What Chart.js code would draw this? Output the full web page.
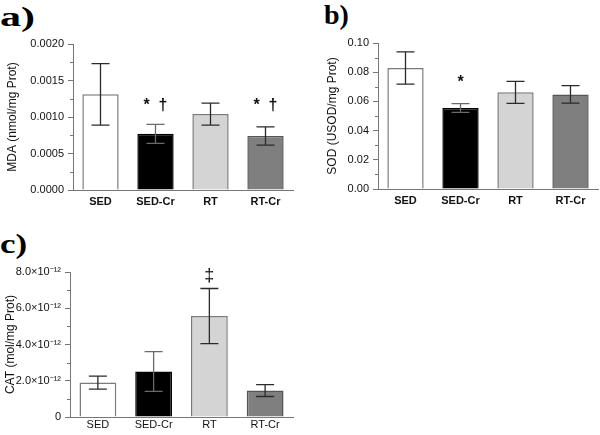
<!DOCTYPE html>
<html>
<head>
<meta charset="utf-8">
<script src="https://cdn.jsdelivr.net/npm/chart.js@4.4.0/dist/chart.umd.min.js"></script>
<style>
body { margin: 0; background: #fff; width: 600px; height: 435px; overflow: hidden; position: relative; }
canvas { position: absolute; }
.lbl { position: absolute; font-family: "Liberation Serif", "Times New Roman", serif; font-weight: bold; font-size: 28px; line-height: 28px; color: #000; transform-origin: left top; }
</style>
</head>
<body>
<div class="lbl" style="left:0;top:3px;transform:scaleX(1.5)">a)</div>
<div class="lbl" style="left:324px;top:1px">b)</div>
<div class="lbl" style="left:0;top:230px;transform:scaleX(1.25)">c)</div>
<canvas id="chartA" width="300" height="215" style="left:0;top:0"></canvas>
<canvas id="chartB" width="300" height="215" style="left:300px;top:0"></canvas>
<canvas id="chartC" width="300" height="220" style="left:0;top:215px"></canvas>
<script>
// groups
var groups = ['SED', 'SED-Cr', 'RT', 'RT-Cr'];

// a) MDA
var mdaMean = [0.00131, 0.00077, 0.00104, 0.00074];
var mdaSd = [0.00042, 0.00013, 0.00015, 0.000125];
var mdaMarks = ['', '*  \u2020', '', '*  \u2020'];
var mdaTicks = ['0.0000', '0.0005', '0.0010', '0.0015', '0.0020'];

// b) SOD
var sodMean = [0.0829, 0.0555, 0.0662, 0.0648];
var sodSd = [0.011, 0.003, 0.0075, 0.006];
var sodMarks = ['', '*', '', ''];
var sodTicks = ['0.00', '0.02', '0.04', '0.06', '0.08', '0.10'];

// c) CAT
var catMean = [1.90e-12, 2.51e-12, 5.57e-12, 1.46e-12];
var catSd = [0.36e-12, 1.10e-12, 1.52e-12, 0.33e-12];
var catMarks = ['', '', '\u2021', ''];
var catTicks = ['0', '2.0\u00d710\u207b\u00b9\u00b2', '4.0\u00d710\u207b\u00b9\u00b2', '6.0\u00d710\u207b\u00b9\u00b2', '8.0\u00d710\u207b\u00b9\u00b2'];

var barFill = ['#ffffff', '#000000', '#d4d4d4', '#7f7f7f'];
var barEdge = ['#7a7a7a', '#000000', '#7a7a7a', '#555555'];
var errColor = ['#2a2a2a', '#6a6a6a', '#2a2a2a', '#2a2a2a'];
var axisColor = '#777777';
var sansFont = 'Arial, "Liberation Sans", sans-serif';

var errorBars = {
    id: 'errorBars',
    afterDatasetsDraw: function (chart, args, opts) {
        var ctx = chart.ctx;
        var y = chart.scales.y;
        var ds = chart.data.datasets[0];
        var meta = chart.getDatasetMeta(0);
        ctx.save();
        ctx.lineWidth = 1.3;
        meta.data.forEach(function (bar, i) {
            var top = y.getPixelForValue(ds.data[i] + ds.sd[i]);
            var bot = y.getPixelForValue(ds.data[i] - ds.sd[i]);
            ctx.strokeStyle = errColor[i];
            ctx.beginPath();
            ctx.moveTo(bar.x, top); ctx.lineTo(bar.x, bot);
            ctx.moveTo(bar.x - 9, top); ctx.lineTo(bar.x + 9, top);
            ctx.moveTo(bar.x - 9, bot); ctx.lineTo(bar.x + 9, bot);
            ctx.stroke();
            if (ds.marks[i]) {
                ctx.fillStyle = '#111';
                ctx.font = opts.markFont;
                ctx.textAlign = 'center';
                ctx.textBaseline = 'middle';
                ctx.fillText(ds.marks[i], bar.x, y.getPixelForValue(opts.markAt));
            }
        });
        // minor ticks between the major ones
        var left = chart.chartArea.left;
        ctx.strokeStyle = axisColor;
        ctx.lineWidth = 1;
        ctx.beginPath();
        for (var k = 0; k < y.ticks.length - 1; k++) {
            var mid = Math.round(y.getPixelForValue((y.ticks[k].value + y.ticks[k + 1].value) / 2)) + 0.5;
            ctx.moveTo(left - 3, mid);
            ctx.lineTo(left, mid);
        }
        ctx.stroke();
        ctx.restore();
    }
};

function makePanel(id, mean, sd, marks, tickLabels, yMax, step, title, p) {
    var ctx = document.getElementById(id);
    return new Chart(ctx, {
        type: 'bar',
        data: {
            labels: groups,
            datasets: [{
                data: mean,
                sd: sd,
                marks: marks,
                backgroundColor: barFill,
                borderColor: barEdge,
                borderWidth: 1.5,
                categoryPercentage: 1,
                barPercentage: 0.66
            }]
        },
        options: {
            responsive: false,
            animation: false,
            layout: { padding: { top: p.top, right: p.right, left: 0, bottom: 0 } },
            plugins: {
                legend: { display: false },
                tooltip: { enabled: false },
                errorBars: { markAt: p.markAt, markFont: p.markFont }
            },
            scales: {
                x: {
                    grid: { display: false, drawTicks: false, tickLength: 0 },
                    border: { display: true, color: axisColor, width: 1 },
                    ticks: { color: '#111', padding: p.xPad, font: { family: sansFont, size: 11, weight: p.xWeight } },
                    afterFit: function (s) { s.height = p.xHeight; }
                },
                y: {
                    min: 0,
                    max: yMax,
                    grid: { drawOnChartArea: false, drawTicks: true, tickLength: 5, color: axisColor },
                    border: { display: true, color: axisColor, width: 1 },
                    ticks: {
                        stepSize: step,
                        color: '#111',
                        padding: 4,
                        font: { family: sansFont, size: 11 },
                        callback: function (v, i) { return tickLabels[i]; }
                    },
                    title: {
                        display: true,
                        text: title,
                        color: '#111',
                        padding: { top: p.titlePad, bottom: 0 },
                        font: { family: sansFont, size: 12 }
                    },
                    afterFit: function (s) { s.width = p.yWidth; }
                }
            }
        },
        plugins: [errorBars]
    });
}

makePanel('chartA', mdaMean, mdaSd, mdaMarks, mdaTicks, 0.002, 0.0005, 'MDA (nmol/mg Prot)',
    { top: 44, right: 7, yWidth: 73, xHeight: 25, xPad: 5, titlePad: 5, xWeight: 'bold', markAt: 0.00115, markFont: 'bold 16px ' + sansFont });
makePanel('chartB', sodMean, sodSd, sodMarks, sodTicks, 0.1, 0.02, 'SOD (USOD/mg Prot)',
    { top: 43, right: 2, yWidth: 78, xHeight: 26, xPad: 5, titlePad: 25, xWeight: 'bold', markAt: 0.0728, markFont: 'bold 16px ' + sansFont });
makePanel('chartC', catMean, catSd, catMarks, catTicks, 8e-12, 2e-12, 'CAT (mol/mg Prot)',
    { top: 57, right: 7, yWidth: 70, xHeight: 18, xPad: 1, titlePad: 3, xWeight: 'normal', markAt: 7.8e-12, markFont: '18px ' + sansFont });
</script>
</body>
</html>
